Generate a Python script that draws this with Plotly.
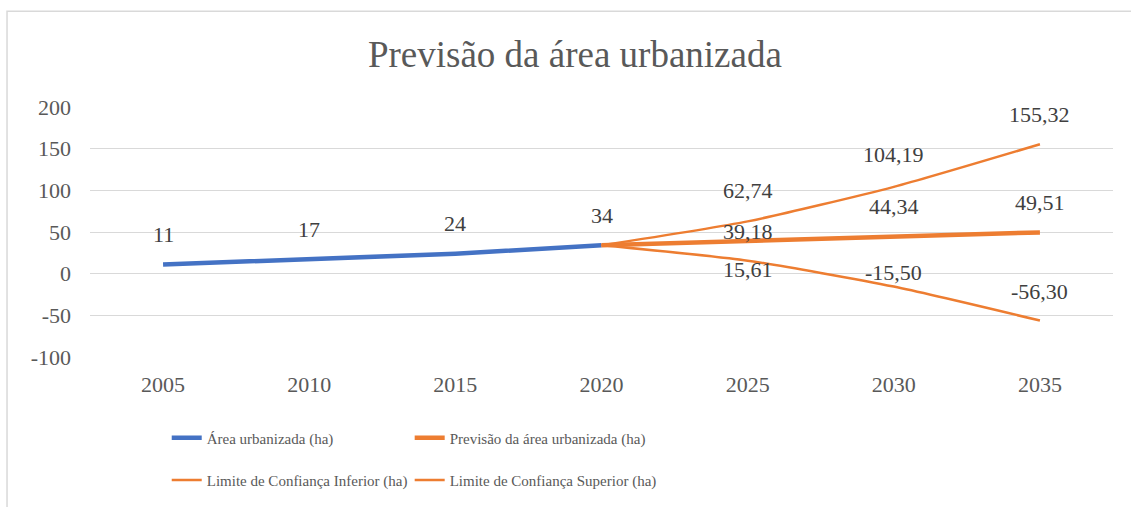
import plotly.graph_objects as go

# Data
years = ["2005", "2010", "2015", "2020", "2025", "2030", "2035"]
area = [11, 17, 24, 34, None, None, None]
forecast = [None, None, None, 34, 39.18, 44.34, 49.51]
lower = [None, None, None, 34, 15.61, -15.50, -56.30]
upper = [None, None, None, 34, 62.74, 104.19, 155.32]
y_ticks = [-100, -50, 0, 50, 100, 150, 200]

BLUE = "#4472C4"
ORANGE = "#ED7D31"
TXT = "#595959"
LBL = "#404040"
FONT = "Liberation Serif, Times New Roman, serif"

fig = go.Figure()
fig.add_trace(go.Scatter(x=years, y=area, name="Área urbanizada (ha)", mode="lines",
                         line=dict(color=BLUE, width=4.5), legend="legend"))
fig.add_trace(go.Scatter(x=years, y=lower, name="Limite de Confiança Inferior (ha)", mode="lines",
                         line=dict(color=ORANGE, width=2.5, shape="spline", smoothing=0.6),
                         legend="legend3"))
fig.add_trace(go.Scatter(x=years, y=upper, name="Limite de Confiança Superior (ha)", mode="lines",
                         line=dict(color=ORANGE, width=2.5, shape="spline", smoothing=0.6),
                         legend="legend4"))
fig.add_trace(go.Scatter(x=years, y=forecast, name="Previsão da área urbanizada (ha)", mode="lines",
                         line=dict(color=ORANGE, width=4.5), legend="legend2"))


def fmt(v, decimals):
    s = f"{v:.{decimals}f}".replace(".", ",")
    return s


# Data labels above each point (vertical pixel offsets per label)
label_sets = [
    (area, 0, [30, 30, 30, 30, None, None, None]),
    (forecast, 2, [None, None, None, None, 10, 30, 30]),
    (lower, 2, [None, None, None, None, -9, 14, 29]),
    (upper, 2, [None, None, None, None, 31, 32, 30]),
]
for values, dec, shifts in label_sets:
    for i, (v, s) in enumerate(zip(values, shifts)):
        if v is None or s is None:
            continue
        fig.add_annotation(x=i, y=v, xref="x", yref="y", text=fmt(v, dec),
                           showarrow=False, yshift=s, yanchor="middle", xanchor="center",
                           font=dict(family=FONT, size=22, color=LBL))

# Chart frame
fig.add_shape(type="rect", xref="paper", yref="paper", x0=-0.0811, x1=1.3, y0=-1.0, y1=1.383,
              line=dict(color="#D9D9D9", width=1.5), fillcolor="rgba(0,0,0,0)", layer="below")

legend_common = dict(orientation="h", xanchor="left", yanchor="middle",
                     font=dict(family=FONT, size=15, color=TXT),
                     itemwidth=30, bgcolor="rgba(0,0,0,0)")

fig.update_layout(
    width=1131, height=507,
    margin=dict(l=90, r=18, t=107, b=149),
    paper_bgcolor="white", plot_bgcolor="white",
    title=dict(text="Previsão da área urbanizada", x=0.474, xref="paper", xanchor="center",
               y=0.893, yref="container", yanchor="middle",
               font=dict(family=FONT, size=37, color=TXT)),
    showlegend=True,
    legend=dict(x=0.075, y=-0.319, **legend_common),
    legend2=dict(x=0.3125, y=-0.319, **legend_common),
    legend3=dict(x=0.075, y=-0.487, **legend_common),
    legend4=dict(x=0.3125, y=-0.487, **legend_common),
    hovermode=False,
    xaxis=dict(type="category", range=[-0.5, 6.5], showgrid=False, zeroline=False,
               showline=False, ticks="", ticklabelstandoff=12,
               tickfont=dict(family=FONT, size=22, color=TXT)),
    yaxis=dict(range=[-100, 200], tickmode="array", tickvals=y_ticks,
               ticktext=[str(t) for t in y_ticks],
               showgrid=True, gridcolor="#D9D9D9",
               gridwidth=1.2, zeroline=False, showline=False, ticks="", ticklabelstandoff=18,
               tickfont=dict(family=FONT, size=22, color=TXT)),
)

fig.write_html("out.html")
